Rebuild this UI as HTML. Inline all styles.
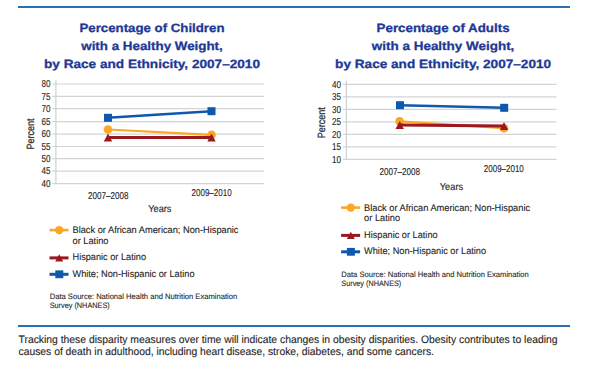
<!DOCTYPE html><html><head><meta charset="utf-8"><style>html,body{margin:0;padding:0;background:#fff;}svg{display:block;}text{font-family:"Liberation Sans", sans-serif;text-rendering:geometricPrecision;}</style></head><body>
<svg width="605" height="370" viewBox="0 0 605 370">
<rect x="0" y="0" width="605" height="370" fill="#fff"/>
<rect x="18" y="6" width="552" height="2" fill="#2870b6"/>
<rect x="18" y="325" width="552" height="2" fill="#2870b6"/>
<text x="152" y="32.2" font-size="12" fill="#1d3895" text-anchor="middle" font-weight="bold" textLength="145" lengthAdjust="spacingAndGlyphs" stroke="#1d3895" stroke-width="0.28">Percentage of Children</text>
<text x="152" y="50" font-size="12" fill="#1d3895" text-anchor="middle" font-weight="bold" textLength="141.5" lengthAdjust="spacingAndGlyphs" stroke="#1d3895" stroke-width="0.28">with a Healthy Weight,</text>
<text x="152" y="68.1" font-size="12" fill="#1d3895" text-anchor="middle" font-weight="bold" textLength="216" lengthAdjust="spacingAndGlyphs" stroke="#1d3895" stroke-width="0.28">by Race and Ethnicity, 2007–2010</text>
<text x="443.1" y="32.2" font-size="12" fill="#1d3895" text-anchor="middle" font-weight="bold" textLength="133" lengthAdjust="spacingAndGlyphs" stroke="#1d3895" stroke-width="0.28">Percentage of Adults</text>
<text x="443.1" y="50" font-size="12" fill="#1d3895" text-anchor="middle" font-weight="bold" textLength="142.5" lengthAdjust="spacingAndGlyphs" stroke="#1d3895" stroke-width="0.28">with a Healthy Weight,</text>
<text x="443.1" y="68.1" font-size="12" fill="#1d3895" text-anchor="middle" font-weight="bold" textLength="216" lengthAdjust="spacingAndGlyphs" stroke="#1d3895" stroke-width="0.28">by Race and Ethnicity, 2007–2010</text>
<line x1="52.3" y1="84.0" x2="264" y2="84.0" stroke="#d4d4d4" stroke-width="1.2"/>
<text x="50.4" y="87.3" font-size="10" fill="#262626" text-anchor="end" font-weight="normal" textLength="9" lengthAdjust="spacingAndGlyphs" stroke="#262626" stroke-width="0.12">80</text>
<line x1="52.3" y1="96.45" x2="264" y2="96.45" stroke="#d4d4d4" stroke-width="1.2"/>
<text x="50.4" y="99.75" font-size="10" fill="#262626" text-anchor="end" font-weight="normal" textLength="9" lengthAdjust="spacingAndGlyphs" stroke="#262626" stroke-width="0.12">75</text>
<line x1="52.3" y1="108.6" x2="264" y2="108.6" stroke="#d4d4d4" stroke-width="1.2"/>
<text x="50.4" y="111.89999999999999" font-size="10" fill="#262626" text-anchor="end" font-weight="normal" textLength="9" lengthAdjust="spacingAndGlyphs" stroke="#262626" stroke-width="0.12">70</text>
<line x1="52.3" y1="121.6" x2="264" y2="121.6" stroke="#d4d4d4" stroke-width="1.2"/>
<text x="50.4" y="124.89999999999999" font-size="10" fill="#262626" text-anchor="end" font-weight="normal" textLength="9" lengthAdjust="spacingAndGlyphs" stroke="#262626" stroke-width="0.12">65</text>
<line x1="52.3" y1="134.1" x2="264" y2="134.1" stroke="#d4d4d4" stroke-width="1.2"/>
<text x="50.4" y="137.4" font-size="10" fill="#262626" text-anchor="end" font-weight="normal" textLength="9" lengthAdjust="spacingAndGlyphs" stroke="#262626" stroke-width="0.12">60</text>
<line x1="52.3" y1="146.5" x2="264" y2="146.5" stroke="#d4d4d4" stroke-width="1.2"/>
<text x="50.4" y="149.8" font-size="10" fill="#262626" text-anchor="end" font-weight="normal" textLength="9" lengthAdjust="spacingAndGlyphs" stroke="#262626" stroke-width="0.12">55</text>
<line x1="52.3" y1="158.7" x2="264" y2="158.7" stroke="#d4d4d4" stroke-width="1.2"/>
<text x="50.4" y="162.0" font-size="10" fill="#262626" text-anchor="end" font-weight="normal" textLength="9" lengthAdjust="spacingAndGlyphs" stroke="#262626" stroke-width="0.12">50</text>
<line x1="52.3" y1="171.15" x2="264" y2="171.15" stroke="#d4d4d4" stroke-width="1.2"/>
<text x="50.4" y="174.45000000000002" font-size="10" fill="#262626" text-anchor="end" font-weight="normal" textLength="9" lengthAdjust="spacingAndGlyphs" stroke="#262626" stroke-width="0.12">45</text>
<line x1="52.3" y1="183.6" x2="264" y2="183.6" stroke="#d4d4d4" stroke-width="1.2"/>
<text x="50.4" y="186.9" font-size="10" fill="#262626" text-anchor="end" font-weight="normal" textLength="9" lengthAdjust="spacingAndGlyphs" stroke="#262626" stroke-width="0.12">40</text>
<line x1="55.9" y1="80.2" x2="55.9" y2="183.6" stroke="#d0d0d0" stroke-width="1.2"/>
<text x="0" y="0" font-size="10.5" fill="#262626" stroke="#262626" stroke-width="0.25" text-anchor="middle" transform="translate(34.2,134) rotate(-90)" textLength="31" lengthAdjust="spacingAndGlyphs">Percent</text>
<text x="88" y="199.4" font-size="9.9" fill="#262626" text-anchor="start" font-weight="normal" textLength="40.5" lengthAdjust="spacingAndGlyphs" stroke="#262626" stroke-width="0.12">2007–2008</text>
<text x="191.6" y="196.4" font-size="9.9" fill="#262626" text-anchor="start" font-weight="normal" textLength="40" lengthAdjust="spacingAndGlyphs" stroke="#262626" stroke-width="0.12">2009–2010</text>
<text x="148.2" y="212.1" font-size="10" fill="#262626" text-anchor="start" font-weight="normal" textLength="23.3" lengthAdjust="spacingAndGlyphs" stroke="#262626" stroke-width="0.12">Years</text>
<line x1="108" y1="129.5" x2="211.5" y2="134.9" stroke="#fba624" stroke-width="2.2"/>
<circle cx="108" cy="129.5" r="4.3" fill="#fba624"/>
<circle cx="211.5" cy="134.9" r="4.3" fill="#fba624"/>
<line x1="108" y1="137.4" x2="211.5" y2="137.4" stroke="#9b181e" stroke-width="3"/>
<path d="M103.8,141.5 L108,133.6 L112.2,141.5 Z" fill="#9b181e"/>
<path d="M207.3,141.5 L211.5,133.6 L215.7,141.5 Z" fill="#9b181e"/>
<line x1="108" y1="117.8" x2="211.5" y2="111.2" stroke="#0f58ac" stroke-width="2.4"/>
<rect x="104" y="113.8" width="8" height="8" fill="#0f58ac"/>
<rect x="207.5" y="107.2" width="8" height="8" fill="#0f58ac"/>
<line x1="342.79999999999995" y1="84.3" x2="556.5" y2="84.3" stroke="#d4d4d4" stroke-width="1.2"/>
<text x="340.9" y="87.6" font-size="10" fill="#262626" text-anchor="end" font-weight="normal" textLength="9" lengthAdjust="spacingAndGlyphs" stroke="#262626" stroke-width="0.12">40</text>
<line x1="342.79999999999995" y1="96.8" x2="556.5" y2="96.8" stroke="#d4d4d4" stroke-width="1.2"/>
<text x="340.9" y="100.1" font-size="10" fill="#262626" text-anchor="end" font-weight="normal" textLength="9" lengthAdjust="spacingAndGlyphs" stroke="#262626" stroke-width="0.12">35</text>
<line x1="342.79999999999995" y1="109.3" x2="556.5" y2="109.3" stroke="#d4d4d4" stroke-width="1.2"/>
<text x="340.9" y="112.6" font-size="10" fill="#262626" text-anchor="end" font-weight="normal" textLength="9" lengthAdjust="spacingAndGlyphs" stroke="#262626" stroke-width="0.12">30</text>
<line x1="342.79999999999995" y1="121.8" x2="556.5" y2="121.8" stroke="#d4d4d4" stroke-width="1.2"/>
<text x="340.9" y="125.1" font-size="10" fill="#262626" text-anchor="end" font-weight="normal" textLength="9" lengthAdjust="spacingAndGlyphs" stroke="#262626" stroke-width="0.12">25</text>
<line x1="342.79999999999995" y1="134.3" x2="556.5" y2="134.3" stroke="#d4d4d4" stroke-width="1.2"/>
<text x="340.9" y="137.60000000000002" font-size="10" fill="#262626" text-anchor="end" font-weight="normal" textLength="9" lengthAdjust="spacingAndGlyphs" stroke="#262626" stroke-width="0.12">20</text>
<line x1="342.79999999999995" y1="146.8" x2="556.5" y2="146.8" stroke="#d4d4d4" stroke-width="1.2"/>
<text x="340.9" y="150.10000000000002" font-size="10" fill="#262626" text-anchor="end" font-weight="normal" textLength="9" lengthAdjust="spacingAndGlyphs" stroke="#262626" stroke-width="0.12">15</text>
<line x1="342.79999999999995" y1="159.3" x2="556.5" y2="159.3" stroke="#d4d4d4" stroke-width="1.2"/>
<text x="340.9" y="162.60000000000002" font-size="10" fill="#262626" text-anchor="end" font-weight="normal" textLength="9" lengthAdjust="spacingAndGlyphs" stroke="#262626" stroke-width="0.12">10</text>
<line x1="346.4" y1="80.8" x2="346.4" y2="159.3" stroke="#d0d0d0" stroke-width="1.2"/>
<text x="0" y="0" font-size="10.5" fill="#262626" stroke="#262626" stroke-width="0.25" text-anchor="middle" transform="translate(325,122.7) rotate(-90)" textLength="31" lengthAdjust="spacingAndGlyphs">Percent</text>
<text x="379.5" y="175.1" font-size="9.9" fill="#262626" text-anchor="start" font-weight="normal" textLength="40.5" lengthAdjust="spacingAndGlyphs" stroke="#262626" stroke-width="0.12">2007–2008</text>
<text x="483.8" y="172.4" font-size="9.9" fill="#262626" text-anchor="start" font-weight="normal" textLength="40" lengthAdjust="spacingAndGlyphs" stroke="#262626" stroke-width="0.12">2009–2010</text>
<text x="439.8" y="189.9" font-size="10" fill="#262626" text-anchor="start" font-weight="normal" textLength="23.3" lengthAdjust="spacingAndGlyphs" stroke="#262626" stroke-width="0.12">Years</text>
<line x1="399.6" y1="121.4" x2="504" y2="128.2" stroke="#fba624" stroke-width="2.2"/>
<circle cx="399.6" cy="121.4" r="4.3" fill="#fba624"/>
<circle cx="504" cy="128.2" r="4.3" fill="#fba624"/>
<line x1="399.7" y1="124.9" x2="504" y2="125.9" stroke="#9b181e" stroke-width="3"/>
<path d="M395.5,129.0 L399.7,121.10000000000001 L403.9,129.0 Z" fill="#9b181e"/>
<path d="M499.8,130.0 L504,122.10000000000001 L508.2,130.0 Z" fill="#9b181e"/>
<line x1="400" y1="105.2" x2="504.2" y2="107.8" stroke="#0f58ac" stroke-width="2.4"/>
<rect x="396" y="101.2" width="8" height="8" fill="#0f58ac"/>
<rect x="500.2" y="103.8" width="8" height="8" fill="#0f58ac"/>
<line x1="49.5" y1="230.10000000000002" x2="68.5" y2="230.10000000000002" stroke="#fba624" stroke-width="2.6"/>
<circle cx="59.2" cy="230.10000000000002" r="4.2" fill="#fba624"/>
<text x="72.5" y="233.3" font-size="9.6" fill="#262626" text-anchor="start" font-weight="normal" textLength="166" lengthAdjust="spacingAndGlyphs" stroke="#262626" stroke-width="0.12">Black or African American; Non-Hispanic</text>
<text x="72.5" y="243.8" font-size="9.6" fill="#262626" text-anchor="start" font-weight="normal" textLength="36" lengthAdjust="spacingAndGlyphs" stroke="#262626" stroke-width="0.12">or Latino</text>
<line x1="49.5" y1="257.90000000000003" x2="68.5" y2="257.90000000000003" stroke="#9b181e" stroke-width="3"/>
<path d="M55.2,261.40000000000003 L59.2,254.20000000000005 L63.2,261.40000000000003 Z" fill="#9b181e"/>
<text x="72.5" y="260.1" font-size="9.6" fill="#262626" text-anchor="start" font-weight="normal" textLength="73.5" lengthAdjust="spacingAndGlyphs" stroke="#262626" stroke-width="0.12">Hispanic or Latino</text>
<line x1="49.5" y1="274.30000000000007" x2="68.5" y2="274.30000000000007" stroke="#0f58ac" stroke-width="3"/>
<rect x="55.3" y="270.4000000000001" width="8" height="7.8" fill="#0f58ac"/>
<text x="72.5" y="276.70000000000005" font-size="9.6" fill="#262626" text-anchor="start" font-weight="normal" textLength="122" lengthAdjust="spacingAndGlyphs" stroke="#262626" stroke-width="0.12">White; Non-Hispanic or Latino</text>
<text x="49.7" y="299.40000000000003" font-size="7.8" fill="#262626" text-anchor="start" font-weight="normal" textLength="187.5" lengthAdjust="spacingAndGlyphs" stroke="#262626" stroke-width="0.1">Data Source: National Health and Nutrition Examination</text>
<text x="49.7" y="308.1" font-size="7.8" fill="#262626" text-anchor="start" font-weight="normal" textLength="60" lengthAdjust="spacingAndGlyphs" stroke="#262626" stroke-width="0.1">Survey (NHANES)</text>
<line x1="341.1" y1="207.60000000000002" x2="360.1" y2="207.60000000000002" stroke="#fba624" stroke-width="2.6"/>
<circle cx="350.8" cy="207.60000000000002" r="4.2" fill="#fba624"/>
<text x="364.1" y="210.8" font-size="9.6" fill="#262626" text-anchor="start" font-weight="normal" textLength="166" lengthAdjust="spacingAndGlyphs" stroke="#262626" stroke-width="0.12">Black or African American; Non-Hispanic</text>
<text x="364.1" y="221.3" font-size="9.6" fill="#262626" text-anchor="start" font-weight="normal" textLength="36" lengthAdjust="spacingAndGlyphs" stroke="#262626" stroke-width="0.12">or Latino</text>
<line x1="341.1" y1="235.40000000000003" x2="360.1" y2="235.40000000000003" stroke="#9b181e" stroke-width="3"/>
<path d="M346.8,238.90000000000003 L350.8,231.70000000000005 L354.8,238.90000000000003 Z" fill="#9b181e"/>
<text x="364.1" y="237.60000000000002" font-size="9.6" fill="#262626" text-anchor="start" font-weight="normal" textLength="73.5" lengthAdjust="spacingAndGlyphs" stroke="#262626" stroke-width="0.12">Hispanic or Latino</text>
<line x1="341.1" y1="251.8" x2="360.1" y2="251.8" stroke="#0f58ac" stroke-width="3"/>
<rect x="346.90000000000003" y="247.9" width="8" height="7.8" fill="#0f58ac"/>
<text x="364.1" y="254.20000000000002" font-size="9.6" fill="#262626" text-anchor="start" font-weight="normal" textLength="122" lengthAdjust="spacingAndGlyphs" stroke="#262626" stroke-width="0.12">White; Non-Hispanic or Latino</text>
<text x="341.3" y="276.90000000000003" font-size="7.8" fill="#262626" text-anchor="start" font-weight="normal" textLength="187.5" lengthAdjust="spacingAndGlyphs" stroke="#262626" stroke-width="0.1">Data Source: National Health and Nutrition Examination</text>
<text x="341.3" y="285.6" font-size="7.8" fill="#262626" text-anchor="start" font-weight="normal" textLength="60" lengthAdjust="spacingAndGlyphs" stroke="#262626" stroke-width="0.1">Survey (NHANES)</text>
<text x="18.5" y="343.4" font-size="10.8" fill="#262626" text-anchor="start" font-weight="normal" textLength="539" lengthAdjust="spacingAndGlyphs" stroke="#262626" stroke-width="0.12">Tracking these disparity measures over time will indicate changes in obesity disparities. Obesity contributes to leading</text>
<text x="18.5" y="355.2" font-size="10.8" fill="#262626" text-anchor="start" font-weight="normal" textLength="415.5" lengthAdjust="spacingAndGlyphs" stroke="#262626" stroke-width="0.12">causes of death in adulthood, including heart disease, stroke, diabetes, and some cancers.</text>
</svg></body></html>
